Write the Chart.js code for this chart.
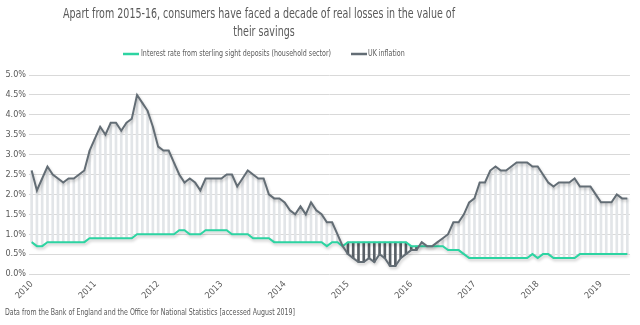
<!DOCTYPE html>
<html><head><meta charset="utf-8">
<script src="https://cdn.jsdelivr.net/npm/chart.js@4.4.1/dist/chart.umd.min.js"></script>
<style>html,body{margin:0;padding:0;background:#fff;overflow:hidden}#wrap{width:640px;height:325px;position:relative}</style>
</head><body><div id="wrap"><canvas id="c"></canvas></div>
<script>
const FONT = "'Liberation Sans Narrow','DejaVu Sans Condensed','Arial Narrow',sans-serif";
const titleLines = ['Apart from 2015-16, consumers have faced a decade of real losses in the value of', 'their savings'];
const seriesNames = ['Interest rate from sterling sight deposits (household sector)', 'UK inflation'];
const sourceNote = 'Data from the Bank of England and the Office for National Statistics [accessed August 2019]';
const years = [2010, 2011, 2012, 2013, 2014, 2015, 2016, 2017, 2018, 2019];
const monthNames = ['Jan','Feb','Mar','Apr','May','Jun','Jul','Aug','Sep','Oct','Nov','Dec'];
const lastYearMonths = 6; // data runs to Jun 2019
const categories = [];
years.forEach((y, k) => {
  const n = k === years.length - 1 ? lastYearMonths : 12;
  for (let m = 0; m < n; m++) categories.push(monthNames[m] + ' ' + y);
});
const interestRate = [
  0.8,0.7,0.7,0.8,0.8,0.8,0.8,0.8,0.8,0.8,0.8,0.9,
  0.9,0.9,0.9,0.9,0.9,0.9,0.9,0.9,1.0,1.0,1.0,1.0,
  1.0,1.0,1.0,1.0,1.1,1.1,1.0,1.0,1.0,1.1,1.1,1.1,
  1.1,1.1,1.0,1.0,1.0,1.0,0.9,0.9,0.9,0.9,0.8,0.8,
  0.8,0.8,0.8,0.8,0.8,0.8,0.8,0.8,0.7,0.8,0.8,0.7,
  0.8,0.8,0.8,0.8,0.8,0.8,0.8,0.8,0.8,0.8,0.8,0.8,
  0.7,0.7,0.7,0.7,0.7,0.7,0.7,0.6,0.6,0.6,0.5,0.4,
  0.4,0.4,0.4,0.4,0.4,0.4,0.4,0.4,0.4,0.4,0.4,0.5,
  0.4,0.5,0.5,0.4,0.4,0.4,0.4,0.4,0.5,0.5,0.5,0.5,
  0.5,0.5,0.5,0.5,0.5,0.5
];
const inflation = [
  2.6,2.1,2.4,2.7,2.5,2.4,2.3,2.4,2.4,2.5,2.6,3.1,
  3.4,3.7,3.5,3.8,3.8,3.6,3.8,3.9,4.5,4.3,4.1,3.7,
  3.2,3.1,3.1,2.8,2.5,2.3,2.4,2.3,2.1,2.4,2.4,2.4,
  2.4,2.5,2.5,2.2,2.4,2.6,2.5,2.4,2.4,2.0,1.9,1.9,
  1.8,1.6,1.5,1.7,1.5,1.8,1.6,1.5,1.3,1.3,1.0,0.7,
  0.5,0.4,0.3,0.3,0.4,0.3,0.5,0.4,0.2,0.2,0.4,0.5,
  0.6,0.6,0.8,0.7,0.7,0.8,0.9,1.0,1.3,1.3,1.5,1.8,
  1.9,2.3,2.3,2.6,2.7,2.6,2.6,2.7,2.8,2.8,2.8,2.7,
  2.7,2.5,2.3,2.2,2.3,2.3,2.3,2.4,2.2,2.2,2.2,2.0,
  1.8,1.8,1.8,2.0,1.9,1.9
];
const yMin = 0, yMax = 5, yStep = 0.5;
const colGreen = '#2dd4a2', colGrey = '#636d75', colText = '#595959';

const gapUp = categories.map((_, i) => inflation[i] > interestRate[i] ? [interestRate[i], inflation[i]] : null);
const gapDown = categories.map((_, i) => interestRate[i] > inflation[i] ? [inflation[i], interestRate[i]] : null);

// draw text horizontally condensed so that it spans the given width
function squeezed(ctx, text, x, y, width, align) {
  const w = ctx.measureText(text).width;
  const sx = width / w;
  ctx.save();
  ctx.translate(x, y);
  ctx.scale(sx, 1);
  ctx.textAlign = align;
  ctx.fillText(text, 0, 0);
  ctx.restore();
  return sx;
}

const textPlugin = {
  id: 'texts',
  afterDraw(chart) {
    const ctx = chart.ctx;
    ctx.save();
    ctx.fillStyle = colText;
    ctx.textBaseline = 'middle';
    ctx.font = '13.5px ' + FONT;
    const sx = squeezed(ctx, titleLines[0], 259, 14, 392, 'center');
    const w2 = ctx.measureText(titleLines[1]).width * sx;
    squeezed(ctx, titleLines[1], 264, 32, w2, 'center');
    // legend
    ctx.font = '9px ' + FONT;
    const ly = 54;
    ctx.lineWidth = 2.5;
    ctx.strokeStyle = colGreen;
    ctx.beginPath(); ctx.moveTo(123, ly); ctx.lineTo(139, ly); ctx.stroke();
    const lsx = squeezed(ctx, seriesNames[0], 141, ly, 190, 'left');
    ctx.strokeStyle = colGrey;
    ctx.beginPath(); ctx.moveTo(351, ly); ctx.lineTo(367, ly); ctx.stroke();
    squeezed(ctx, seriesNames[1], 368, ly, ctx.measureText(seriesNames[1]).width * lsx, 'left');
    // source
    ctx.font = '9px ' + FONT;
    squeezed(ctx, sourceNote, 5, 313, 290, 'left');
    ctx.restore();
  }
};
const shadowPlugin = {
  id: 'lineShadow',
  beforeDatasetDraw(chart, args) {
    if (chart.data.datasets[args.index].type === 'line') {
      const ctx = chart.ctx; ctx.save();
      ctx.shadowColor = 'rgba(0,0,0,0.22)'; ctx.shadowBlur = 3; ctx.shadowOffsetX = 1; ctx.shadowOffsetY = 2;
    }
  },
  afterDatasetDraw(chart, args) {
    if (chart.data.datasets[args.index].type === 'line') chart.ctx.restore();
  }
};

new Chart(document.getElementById('c'), {
  data: {
    labels: categories,
    datasets: [
      { type: 'line', label: seriesNames[0], data: interestRate, borderColor: colGreen, borderWidth: 2, pointRadius: 0, tension: 0, order: 1 },
      { type: 'line', label: seriesNames[1], data: inflation, borderColor: colGrey, borderWidth: 2, pointRadius: 0, tension: 0, order: 0 },
      { type: 'bar', label: 'up', data: gapUp, backgroundColor: '#e2e5e8', barThickness: 2, grouped: false, borderWidth: 0, order: 3 },
      { type: 'bar', label: 'down', data: gapDown, backgroundColor: '#596067', barThickness: 2, grouped: false, borderWidth: 0, order: 2 }
    ]
  },
  options: {
    responsive: true, maintainAspectRatio: false, animation: false,
    layout: { padding: { top: 75, right: 8, bottom: 21, left: 0 } },
    plugins: { legend: { display: false }, title: { display: false }, tooltip: { enabled: false } },
    scales: {
      x: {
        type: 'category', offset: true,
        grid: { display: false, drawTicks: false },
        border: { display: false },
        afterFit(s) { s.height = 30; },
        ticks: {
          autoSkip: false, minRotation: 45, maxRotation: 45, padding: 5,
          color: colText, font: { family: FONT, size: 9 },
          callback(v, i) { return i % 12 === 0 ? categories[i].split(' ')[1] : ''; }
        }
      },
      y: {
        min: yMin, max: yMax,
        grid: { color: '#d9d9d9', lineWidth: 1, drawTicks: false },
        border: { display: false },
        afterFit(s) { s.width = 29; },
        ticks: { stepSize: yStep, padding: 3, color: colText, font: { family: FONT, size: 9 },
          callback(v) { return v.toFixed(1) + '%'; } }
      }
    }
  },
  plugins: [textPlugin, shadowPlugin]
});
</script></body></html>
